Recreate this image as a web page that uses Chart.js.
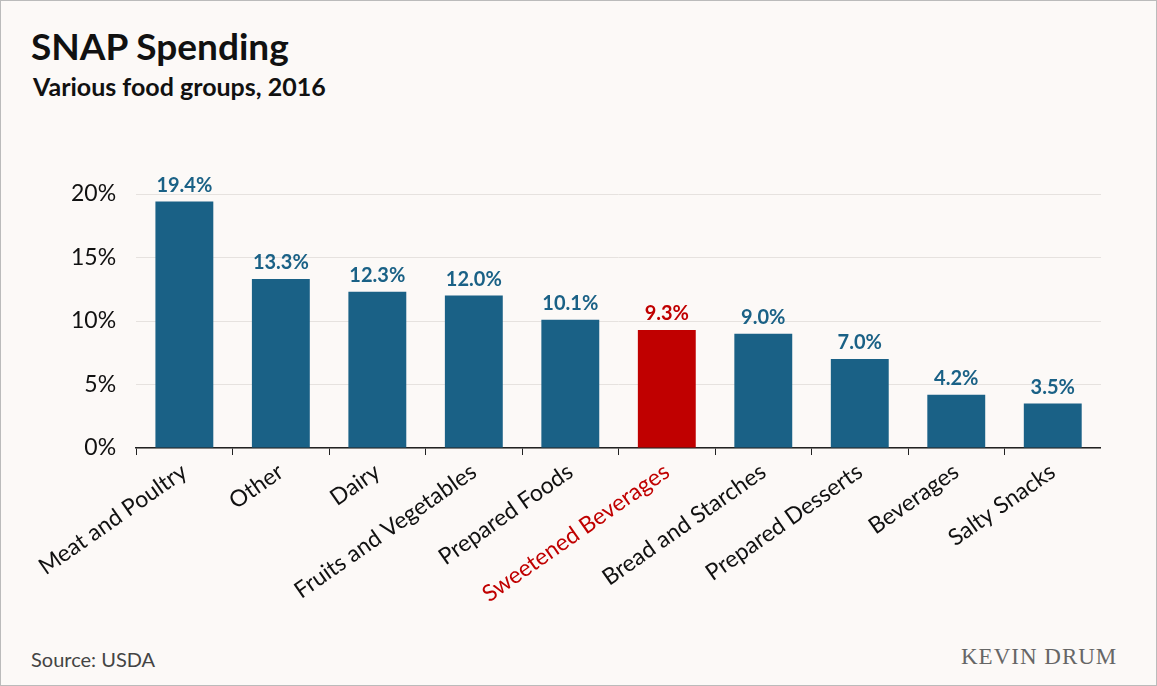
<!DOCTYPE html>
<html><head><meta charset="utf-8">
<script src="https://cdn.jsdelivr.net/npm/chart.js@4"></script>
<style>
body{margin:0;background:#fff;}
#frame{position:absolute;left:0;top:0;width:1155px;height:684px;border:1px solid #bbb;background:#fcf9f7;font-family:Lato,sans-serif;}
#title{position:absolute;left:30px;top:22px;font-size:37px;font-weight:bold;color:#111;}
#sub{position:absolute;left:32px;top:70px;font-size:25px;font-weight:bold;color:#111;}
#src{position:absolute;left:30px;top:646px;font-size:20px;color:#444;}
#logo{position:absolute;left:960px;top:643px;font-size:23px;color:#666;font-family:"Liberation Serif",serif;letter-spacing:1px;}
#wrap{position:absolute;left:10px;top:150px;width:1090px;height:460px;}
</style></head><body>
<div id="frame">
<div id="title">SNAP Spending</div>
<div id="sub">Various food groups, 2016</div>
<div id="wrap"><canvas id="c"></canvas></div>
<div id="src">Source: USDA</div>
<div id="logo">KEVIN DRUM</div>
</div>
<script>
const categories = ['Meat and Poultry','Other','Dairy','Fruits and Vegetables','Prepared Foods','Sweetened Beverages','Bread and Starches','Prepared Desserts','Beverages','Salty Snacks'];
const shares = [19.4,13.3,12.3,12.0,10.1,9.3,9.0,7.0,4.2,3.5];
const highlight = 'Sweetened Beverages';
const blue = '#1a6186', red = '#c00000';
const colors = categories.map(c => c === highlight ? red : blue);

const labelPlugin = {
  id: 'vals',
  afterDatasetsDraw(chart) {
    const ctx = chart.ctx;
    chart.getDatasetMeta(0).data.forEach((bar, i) => {
      ctx.save();
      ctx.font = 'bold 20px Lato';
      ctx.fillStyle = colors[i];
      ctx.textAlign = 'center';
      ctx.fillText(shares[i].toFixed(1) + '%', bar.x, bar.y - 10);
      ctx.restore();
    });
  }
};

new Chart(document.getElementById('c'), {
  type: 'bar',
  data: { labels: categories, datasets: [{ data: shares, backgroundColor: colors, barPercentage: 0.6, categoryPercentage: 1 }] },
  options: {
    responsive: true, maintainAspectRatio: false, animation: false,
    layout: { padding: { top: 43, left: 40, right: 0 } },
    plugins: { legend: { display: false }, tooltip: { enabled: false } },
    scales: {
      y: {
        min: 0, max: 20,
        ticks: { stepSize: 5, callback: v => v + '%', color: '#111', font: { size: 23, family: 'Lato' }, padding: 20 },
        grid: { color: '#e6e2df', drawTicks: false },
        border: { display: false }
      },
      x: {
        ticks: { maxRotation: 35, minRotation: 35, color: ctx => categories[ctx.index] === highlight ? red : '#111', font: { size: 23, family: 'Lato' } },
        grid: { offset: true, drawOnChartArea: false, tickLength: 7, color: '#222' },
        border: { color: '#222', width: 1.5 }
      }
    }
  },
  plugins: [labelPlugin]
});
</script>
</body></html>
